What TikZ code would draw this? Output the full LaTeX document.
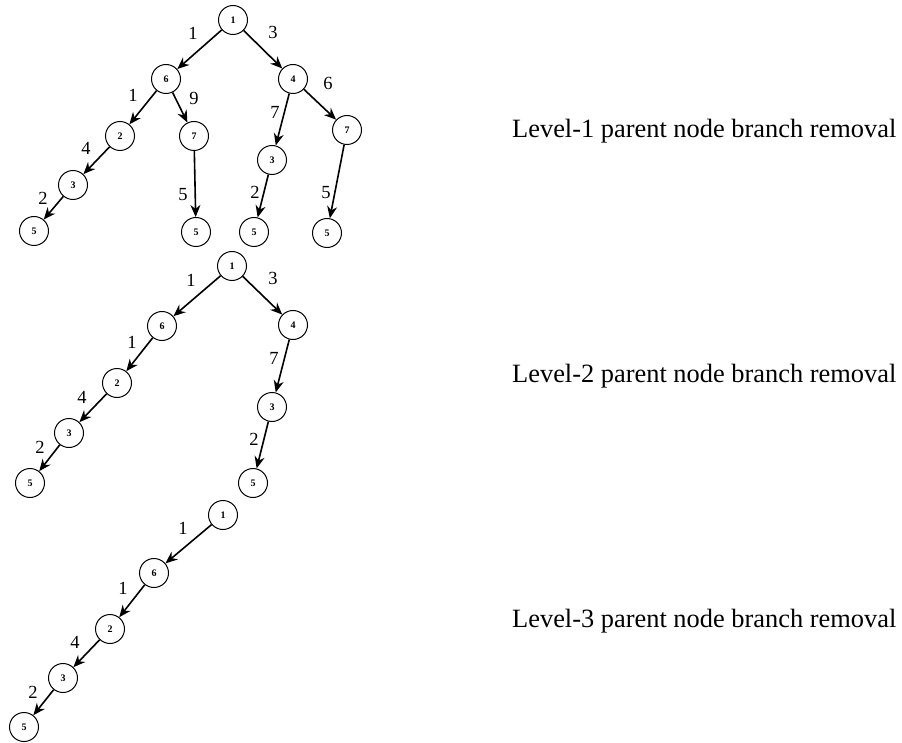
\documentclass[tikz,border=0pt]{standalone}
\usepackage{fontspec}
\setmainfont{Liberation Serif}
\usetikzlibrary{arrows.meta}
\begin{document}
\begin{tikzpicture}[x=1pt,y=-1pt,
  tn/.style={circle,draw,line width=1pt,minimum size=29pt,inner sep=0pt,font=\fontsize{10}{10}\selectfont\bfseries},
  ed/.style={line width=1.6pt,-{Stealth[length=12pt,width=10pt]}},
  wt/.style={font=\fontsize{18.5}{19}\selectfont,inner sep=0pt},
  captext/.style={font=\fontsize{26.4}{28}\selectfont,anchor=west,inner sep=0pt}]
\useasboundingbox (0,0) rectangle (902,743);
% ---------- Tree 1 ----------
\node[tn] (a1) at (233,20) {1};
\node[tn] (a6) at (166,79) {6};
\node[tn] (a4) at (293,79) {4};
\node[tn] (a2) at (120,136) {2};
\node[tn] (a7l) at (194,136) {7};
\node[tn] (a3r) at (272,160) {3};
\node[tn] (a7r) at (347,130) {7};
\node[tn] (a3l) at (73,185) {3};
\node[tn] (a5a) at (34,231) {5};
\node[tn] (a5b) at (196,232) {5};
\node[tn] (a5c) at (254,232) {5};
\node[tn] (a5d) at (327,233) {5};
\draw[ed] (a1) -- (a6);
\draw[ed] (a1) -- (a4);
\draw[ed] (a6) -- (a2);
\draw[ed] (a6) -- (a7l);
\draw[ed] (a4) -- (a3r);
\draw[ed] (a4) -- (a7r);
\draw[ed] (a2) -- (a3l);
\draw[ed] (a3l) -- (a5a);
\draw[ed] (a7l) -- (a5b);
\draw[ed] (a3r) -- (a5c);
\draw[ed] (a7r) -- (a5d);
\node[wt] (wa1) at (193,33) {1};
\node[wt] (wa2) at (273,32) {3};
\node[wt] (wa3) at (133,95) {1};
\node[wt] (wa4) at (194,98) {9};
\node[wt] (wa5) at (328,83) {6};
\node[wt] (wa6) at (275,112) {7};
\node[wt] (wa7) at (86,148) {4};
\node[wt] (wa8) at (43,198) {2};
\node[wt] (wa9) at (183,195) {5};
\node[wt] (wa10) at (255,192) {2};
\node[wt] (wa11) at (326,193) {5};
\node[captext] (c1) at (512,131) {Level-1 parent node branch removal};
% ---------- Tree 2 ----------
\node[tn] (b1) at (232,266) {1};
\node[tn] (b6) at (162,326) {6};
\node[tn] (b4) at (293,325) {4};
\node[tn] (b2) at (117,383) {2};
\node[tn] (b3r) at (272,407) {3};
\node[tn] (b3l) at (69,433) {3};
\node[tn] (b5a) at (30,483) {5};
\node[tn] (b5b) at (253,483) {5};
\draw[ed] (b1) -- (b6);
\draw[ed] (b1) -- (b4);
\draw[ed] (b6) -- (b2);
\draw[ed] (b2) -- (b3l);
\draw[ed] (b3l) -- (b5a);
\draw[ed] (b4) -- (b3r);
\draw[ed] (b3r) -- (b5b);
\node[wt] (wb1) at (191,280) {1};
\node[wt] (wb2) at (273,278) {3};
\node[wt] (wb3) at (132,342) {1};
\node[wt] (wb4) at (274,358) {7};
\node[wt] (wb5) at (82,397) {4};
\node[wt] (wb6) at (254,439) {2};
\node[wt] (wb7) at (40,447) {2};
\node[captext] (c2) at (512,376) {Level-2 parent node branch removal};
% ---------- Tree 3 ----------
\node[tn] (d1) at (223,515) {1};
\node[tn] (d6) at (154,573) {6};
\node[tn] (d2) at (110,629) {2};
\node[tn] (d3) at (63,678) {3};
\node[tn] (d5) at (24,727) {5};
\draw[ed] (d1) -- (d6);
\draw[ed] (d6) -- (d2);
\draw[ed] (d2) -- (d3);
\draw[ed] (d3) -- (d5);
\node[wt] (wd1) at (183,528) {1};
\node[wt] (wd2) at (123,588) {1};
\node[wt] (wd3) at (75,642) {4};
\node[wt] (wd4) at (33,692) {2};
\node[captext] (c3) at (512,621) {Level-3 parent node branch removal};
\end{tikzpicture}
\end{document}
